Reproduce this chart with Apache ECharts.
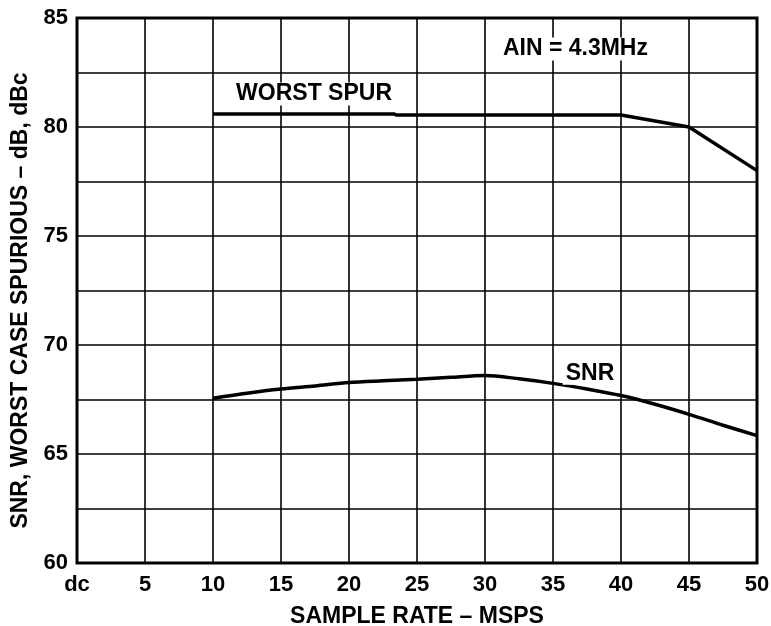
<!DOCTYPE html>
<html><head><meta charset="utf-8">
<script src="https://cdn.jsdelivr.net/npm/echarts@6/dist/echarts.min.js"></script>
<style>html,body{margin:0;padding:0;background:#fff}#c{width:771px;height:626px}</style>
</head><body><div id="c"></div>
<script>
const xTicks = [0,5,10,15,20,25,30,35,40,45,50];
const xTickLabels = ['dc','5','10','15','20','25','30','35','40','45','50'];
const spurX = [10, 23.3, 23.5, 40, 45, 50];
const spurY = [80.6, 80.6, 80.55, 80.55, 80.0, 78.0];
const snrX = [10, 12.5, 15, 17.5, 20, 22.5, 25, 27.5, 30, 32.5, 35, 37.5, 40, 42.5, 45, 47.5, 50];
const snrY = [67.56, 67.79, 67.98, 68.12, 68.28, 68.36, 68.43, 68.52, 68.6, 68.45, 68.24, 67.98, 67.68, 67.28, 66.82, 66.32, 65.84];
const annotations = [
  {text:'WORST SPUR', x:17.43, y:81.51},
  {text:'SNR', x:37.72, y:68.70},
  {text:'AIN = 4.3MHz', x:36.65, y:83.58}
];
const font = '"Liberation Sans", Arial, sans-serif';
const chart = echarts.init(document.getElementById('c'));
chart.setOption({
  animation:false,
  backgroundColor:'#fff',
  grid:{left:77, top:18, right:14, bottom:63, show:true, borderColor:'#000', borderWidth:3, backgroundColor:'transparent', containLabel:false, outerBoundsMode:'none'},
  xAxis:{type:'value', min:0, max:50, interval:5,
    name:'SAMPLE RATE – MSPS', nameLocation:'middle', nameGap:42,
    nameTextStyle:{fontFamily:font, fontWeight:'bold', fontSize:23, color:'#000'},
    axisLine:{show:false}, axisTick:{show:false},
    axisLabel:{margin:11, fontFamily:font, fontWeight:'bold', fontSize:22, color:'#000',
      formatter:v=>{const i=xTicks.indexOf(v);return i>=0?xTickLabels[i]:'';}},
    splitLine:{show:true, lineStyle:{color:'#000', width:1.6}}},
  yAxis:{type:'value', min:60, max:85, interval:2.5,
    name:'SNR, WORST CASE SPURIOUS – dB, dBc', nameLocation:'middle', nameGap:38,
    nameTextStyle:{fontFamily:font, fontWeight:'bold', fontSize:23, color:'#000', padding:[0,20,0,0]},
    axisLine:{show:false}, axisTick:{show:false},
    axisLabel:{margin:9, fontFamily:font, fontWeight:'bold', fontSize:22, color:'#000',
      formatter:v=>(v%5===0?String(v):'')},
    splitLine:{show:true, lineStyle:{color:'#000', width:1.6}}},
  series:[
    {type:'line', data:spurX.map((x,i)=>[x,spurY[i]]), symbol:'none',
      lineStyle:{color:'#000', width:3.5}, z:3,
      markPoint:{symbolSize:0, silent:true,
        data:annotations.map(a=>({coord:[a.x,a.y], value:a.text})),
        label:{show:true, position:'inside', formatter:p=>p.value, fontFamily:font, fontWeight:'bold', fontSize:23, color:'#000', backgroundColor:'#fff', padding:[0,3]}}},
    {type:'line', data:snrX.map((x,i)=>[x,snrY[i]]), symbol:'none', smooth:0.3,
      lineStyle:{color:'#000', width:3.5}, z:3}
  ]
});
</script></body></html>
